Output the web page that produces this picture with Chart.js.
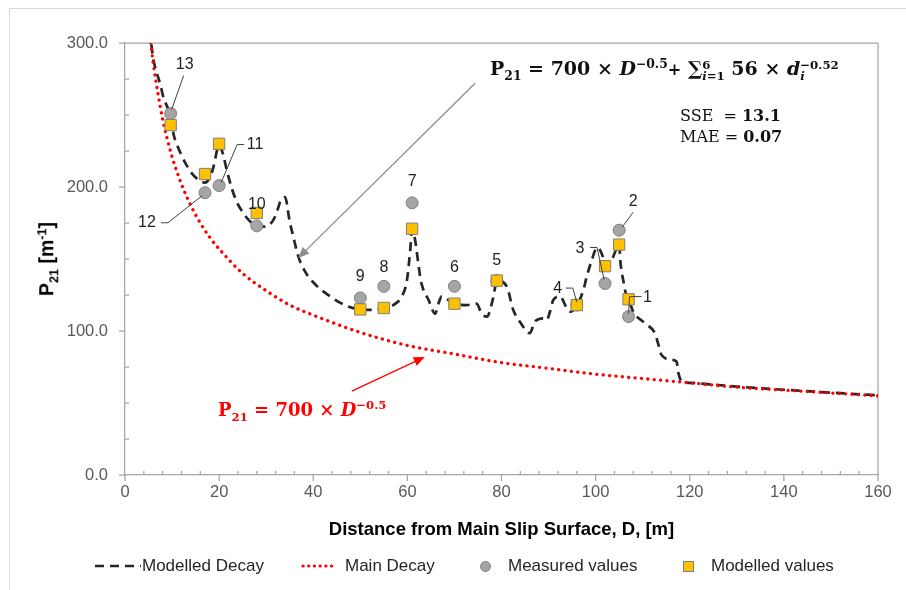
<!DOCTYPE html>
<html>
<head>
<meta charset="utf-8">
<script src="https://cdn.jsdelivr.net/npm/chart.js@4.4.1/dist/chart.umd.min.js"></script>
<style>
  body { margin: 0; background: #fff; }
  #wrap { position: relative; width: 906px; height: 590px; overflow: hidden; font-family: 'Liberation Sans', Arial, sans-serif; }
  #frame { position: absolute; left: 9px; top: 8px; width: 1000px; height: 1000px; border-left: 1px solid #d9d9d9; border-top: 1px solid #d9d9d9; }
  canvas { position: absolute; left: 0; top: 0; }
  .ov { position: absolute; white-space: nowrap; line-height: 1; }
  .ov sub, .ov sup { font-size: 0.65em; line-height: 0; }
  .eq { font-family: 'DejaVu Serif', 'Liberation Serif', serif; font-weight: bold; color: #111; }
  .st { display: inline-block; vertical-align: -0.45em; font-size: 0.62em; line-height: 1; text-align: left; }
  .st > span { display: block; }
  #ytitle { left: 47px; top: 259px; transform: translate(-50%, -50%) rotate(-90deg); font-weight: bold; font-size: 19.5px; color: #000; }
  .lg { position: absolute; top: 557px; font-size: 17px; line-height: 1; color: #262626; white-space: nowrap; }
</style>
</head>
<body>
<div id="wrap">
  <div id="frame"></div>
  <canvas id="p21Chart" width="906" height="590"></canvas>

  <div class="ov" id="ytitle">P<sub>21</sub> [m<sup>-1</sup>]</div>

  <div class="ov eq" style="left:490px; top:59px; font-size:19px;">P<sub>21</sub> = 700 × <i>D</i><sup>−0.5</sup><span style="font-size:0.85em">+</span> ∑<span class="st"><span>6</span><span><i>i</i>=1</span></span> 56 × <i>d</i><span class="st"><span>−0.52</span><span><i>i</i></span></span></div>
  <div class="ov eq" style="left:680px; top:108px; font-size:16px; font-weight:normal;">SSE&nbsp; = <b>13.1</b></div>
  <div class="ov eq" style="left:680px; top:129px; font-size:16px; font-weight:normal;">MAE = <b>0.07</b></div>
  <div class="ov eq" style="left:218px; top:401px; font-size:18px; color:#ff0000;">P<sub>21</sub> = 700 × <i>D</i><sup>−0.5</sup></div>

  <svg style="position:absolute; left:95px; top:563px;" width="46" height="6"><line x1="0" y1="3" x2="46" y2="3" stroke="#262626" stroke-width="2.5" stroke-dasharray="9 6"/></svg>
  <div class="lg" style="left:142px;">Modelled Decay</div>
  <svg style="position:absolute; left:301px; top:563px;" width="38" height="6"><line x1="2" y1="3" x2="36" y2="3" stroke="#ff0000" stroke-width="3.2" stroke-linecap="round" stroke-dasharray="0.1 5.6"/></svg>
  <div class="lg" style="left:345px;">Main Decay</div>
  <div style="position:absolute; left:480px; top:561px; width:9px; height:9px; border-radius:50%; background:#a5a5a5; border:1px solid #7f7f7f;"></div>
  <div class="lg" style="left:508px;">Measured values</div>
  <div style="position:absolute; left:683px; top:561px; width:9px; height:9px; background:#ffc000; border:1px solid #7f7f7f;"></div>
  <div class="lg" style="left:711px;">Modelled values</div>
</div>

<script>
// fracture zones: number, distance D [m], measured and modelled P21
const zoneNo = [1, 2, 3, 4, 5, 6, 7, 8, 9, 10, 11, 12, 13];
const zoneD = [107, 105, 102, 96, 79, 70, 61, 55, 50, 28, 20, 17, 9.7];
const measuredP21 = [110, 170, 133, 118, 135, 131, 189, 131, 123, 173, 201, 196, 251];
const modelledP21 = [122, 160, 145, 118, 135, 119, 171, 116, 115, 182, 230, 209, 243];

// modelled decay curve (dashed)
const decayD = [5.6, 6.0, 6.6, 7.6, 8.1, 9.2, 9.7, 10.3, 11.1, 12.0, 13.1, 14.2, 15.6, 17.0, 18.4, 18.8, 20.0, 20.9, 21.6, 22.7,
  23.7, 25.1, 26.6, 28.0, 29.7, 31.5, 32.6, 33.0, 34.0, 35.0, 35.8, 36.8, 38.5, 40.7, 43.6, 46.7, 50.0, 53.0, 55.0, 57.0,
  58.8, 59.9, 60.6, 61.0, 63.0, 64.5, 65.9, 66.6, 67.3, 68.7, 70.0, 72.6, 74.7, 75.8, 76.9, 78.3, 79.0, 81.1, 82.5, 83.9,
  86.0, 87.1, 88.9, 89.6, 90.3, 91.0, 92.4, 93.9, 94.6, 96.0, 97.4, 98.1, 99.2, 100.3, 101.5, 102.0, 103.5, 105.0, 105.3, 106.0,
  106.5, 107.0, 108.0, 110.5, 112.6, 113.3, 114.0, 116.2, 117.2, 117.6, 118.3, 120, 130, 140, 150, 160];
const decayP21 = [299, 289, 281, 270, 263, 254, 250, 237, 229, 222, 215, 209.5, 205, 203, 209.5, 214, 229, 222, 212, 199,
  190, 182, 176, 173, 172.5, 177, 186, 190, 193, 176, 165, 152, 140, 131.5, 124, 118, 115, 114.6, 116, 118,
  124, 135, 156, 170.5, 133, 121.5, 112, 119, 124, 121.5, 119, 118, 119, 112, 110, 124, 135, 131, 114.6, 106.5,
  98.5, 106.5, 108.8, 107.6, 113.4, 121.5, 124, 115.8, 113.4, 117.6, 128.5, 137.7, 149.3, 158, 152, 145, 150, 160, 147, 133,
  125, 122, 113.4, 105.3, 98.4, 91, 83.3, 80, 78.7, 70.6, 65, 64, 61.4, 59.2, 57.2, 55.3];

// main decay curve (red dotted)
const mainD = [5.45, 6, 7, 8, 9, 10, 12, 14, 16, 18, 20, 25, 30, 35, 40, 50, 60, 70, 80, 90, 100, 110, 120, 130, 140, 150, 160];
const mainP21 = [300, 286, 265, 247, 233, 221, 202, 187, 175, 165, 157, 140, 128, 118, 111, 99, 90, 84, 78, 74, 70, 67, 64, 61, 59, 57, 55];

const FONT = "'Liberation Sans', Arial, sans-serif";
const AXIS_GREY = '#a6a6a6';

const pts = (xs, ys) => xs.map((v, i) => ({ x: v, y: ys[i] }));

// plot frame (top/right) and Excel-like tick marks
const axisFrame = {
  id: 'axisFrame',
  beforeDatasetsDraw(chart) {
    const { ctx, chartArea: a, scales: { x, y } } = chart;
    ctx.save();
    ctx.strokeStyle = AXIS_GREY;
    ctx.lineWidth = 1.25;
    ctx.beginPath();
    ctx.moveTo(a.left - 6, a.top); ctx.lineTo(a.right, a.top); ctx.lineTo(a.right, a.bottom);
    for (let v = 0; v <= 160; v += 4) {
      const px = x.getPixelForValue(v);
      if (v % 20 === 0) { ctx.moveTo(px, a.bottom); ctx.lineTo(px, a.bottom + 6); }
      else { ctx.moveTo(px, a.bottom); ctx.lineTo(px, a.bottom - 4); }
    }
    for (let v = 0; v <= 300; v += 25) {
      const py = y.getPixelForValue(v);
      if (v % 100 === 0) { ctx.moveTo(a.left, py); ctx.lineTo(a.left - 6, py); }
      else { ctx.moveTo(a.left, py); ctx.lineTo(a.left + 4, py); }
    }
    ctx.stroke();
    ctx.restore();
  }
};

// arrows pointing from the equations to the curves
const arrows = {
  id: 'arrows',
  afterDatasetsDraw(chart, args, opts) {
    const { ctx, scales: { x, y } } = chart;
    ctx.save();
    opts.list.forEach(a => {
      const x0 = x.getPixelForValue(a.from[0]), y0 = y.getPixelForValue(a.from[1]);
      const x1 = x.getPixelForValue(a.to[0]), y1 = y.getPixelForValue(a.to[1]);
      const ang = Math.atan2(y1 - y0, x1 - x0);
      ctx.strokeStyle = a.color; ctx.fillStyle = a.color; ctx.lineWidth = a.width;
      ctx.beginPath();
      ctx.moveTo(x0, y0);
      ctx.lineTo(x1 - Math.cos(ang) * 8, y1 - Math.sin(ang) * 8);
      ctx.stroke();
      ctx.beginPath();
      ctx.moveTo(x1, y1);
      ctx.lineTo(x1 - Math.cos(ang - 0.4) * 12, y1 - Math.sin(ang - 0.4) * 12);
      ctx.lineTo(x1 - Math.cos(ang + 0.4) * 12, y1 - Math.sin(ang + 0.4) * 12);
      ctx.closePath();
      ctx.fill();
    });
    ctx.restore();
  }
};

// zone number labels with leader lines, offsets in px from the measured point
const zoneLabels = {
  id: 'zoneLabels',
  afterDatasetsDraw(chart, args, opts) {
    const { ctx, scales: { x, y } } = chart;
    ctx.save();
    ctx.font = '16px ' + FONT;
    ctx.fillStyle = '#222';
    ctx.strokeStyle = '#404040';
    ctx.lineWidth = 1;
    ctx.textAlign = 'center';
    ctx.textBaseline = 'middle';
    zoneNo.forEach((n, i) => {
      const px = x.getPixelForValue(zoneD[i]);
      const py = y.getPixelForValue(measuredP21[i]);
      const p = opts.place[n];
      if (p.leader) {
        ctx.beginPath();
        p.leader.forEach(([dx, dy], k) => k ? ctx.lineTo(px + dx, py + dy) : ctx.moveTo(px + dx, py + dy));
        ctx.stroke();
      }
      ctx.fillText(String(n), px + p.dx, py + p.dy);
    });
    ctx.restore();
  }
};

const ctx = document.getElementById('p21Chart').getContext('2d');
const p21Chart = new Chart(ctx, {
  type: 'scatter',
  data: {
    datasets: [{
      label: 'Modelled values',
      data: pts(zoneD, modelledP21),
      pointStyle: 'rect',
      pointRadius: 8,
      backgroundColor: '#ffc000',
      borderColor: '#7f7f7f',
      borderWidth: 1,
      order: 0
    }, {
      label: 'Measured values',
      data: pts(zoneD, measuredP21),
      pointStyle: 'circle',
      pointRadius: 6,
      backgroundColor: '#a5a5a5',
      borderColor: '#7f7f7f',
      borderWidth: 1,
      order: 1
    }, {
      label: 'Main Decay',
      data: pts(mainD, mainP21),
      showLine: true,
      borderColor: '#ff0000',
      borderWidth: 3.3,
      borderDash: [0.1, 6.3],
      borderCapStyle: 'round',
      pointRadius: 0,
      cubicInterpolationMode: 'monotone',
      order: 2
    }, {
      label: 'Modelled Decay',
      data: pts(decayD, decayP21),
      showLine: true,
      borderColor: '#262626',
      borderWidth: 2.7,
      borderDash: [9, 6],
      pointRadius: 0,
      cubicInterpolationMode: 'monotone',
      order: 3
    }]
  },
  options: {
    responsive: false,
    animation: false,
    layout: { padding: { left: 0, top: 43, right: 28, bottom: 0 } },
    scales: {
      x: {
        type: 'linear',
        min: 0,
        max: 160,
        afterFit: s => { s.height = 115; },
        grid: { display: false, drawTicks: false },
        border: { color: AXIS_GREY, width: 1.25 },
        ticks: { stepSize: 20, padding: 8, color: '#595959', font: { family: FONT, size: 16.5 } },
        title: {
          display: true,
          text: 'Distance from Main Slip Surface, D, [m]',
          color: '#000',
          font: { family: FONT, size: 18.5, weight: 'bold' },
          padding: { top: 0, bottom: 49 }
        }
      },
      y: {
        min: 0,
        max: 300,
        afterFit: s => { s.width = 125; },
        grid: { display: false, drawTicks: false },
        border: { color: AXIS_GREY, width: 1.25 },
        ticks: { stepSize: 100, padding: 17, color: '#595959', font: { family: FONT, size: 16.5 }, callback: v => v.toFixed(1) }
      }
    },
    plugins: {
      legend: { display: false },
      tooltip: { enabled: false },
      arrows: {
        list: [
          { from: [74.4, 272], to: [36.8, 150.7], color: '#8c8c8c', width: 1.3 },
          { from: [48.2, 58.3], to: [63.7, 82], color: '#ff0000', width: 1.3 }
        ]
      },
      zoneLabels: {
        place: {
          1: { dx: 19, dy: -19, leader: [[0, -3], [1, -20], [13, -20]] },
          2: { dx: 14, dy: -29, leader: [[3, -3], [14, -18]] },
          3: { dx: -25, dy: -35, leader: [[-1, -4], [-8, -36], [-15, -36]] },
          4: { dx: -19, dy: -16, leader: [[0, -3], [-4, -17], [-11, -17]] },
          5: { dx: 0, dy: -20 },
          6: { dx: 0, dy: -19 },
          7: { dx: 0, dy: -21 },
          8: { dx: 0, dy: -19 },
          9: { dx: 0, dy: -21 },
          10: { dx: 0, dy: -21 },
          11: { dx: 36, dy: -41, leader: [[2, -3], [18, -41], [25, -41]] },
          12: { dx: -58, dy: 30, leader: [[-3, 3], [-37, 30], [-44, 30]] },
          13: { dx: 14, dy: -49, leader: [[1, -4], [13, -38]] }
        }
      }
    }
  },
  plugins: [axisFrame, arrows, zoneLabels]
});
</script>
</body>
</html>
